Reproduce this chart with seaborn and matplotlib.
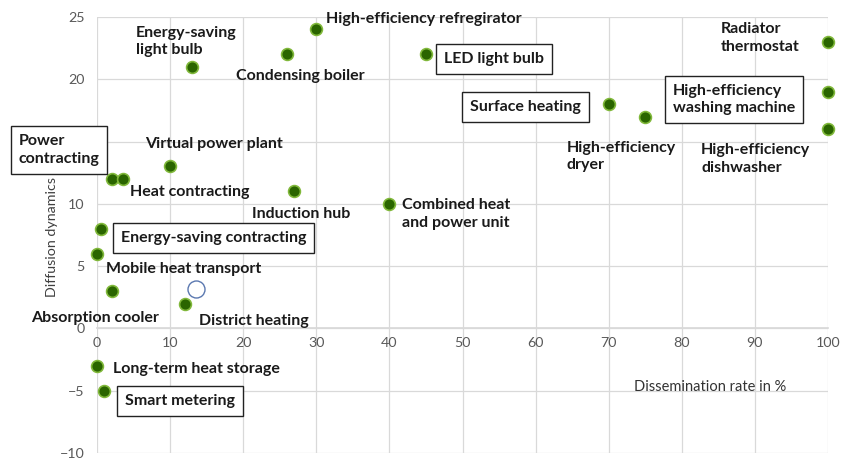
import matplotlib
matplotlib.use("Agg")
import matplotlib.pyplot as plt
import seaborn as sns
import pandas as pd

# technologies: dissemination rate (%) vs diffusion dynamics
names = [
    "Energy-saving\nlight bulb", "Condensing boiler", "High-efficiency refregirator",
    "LED light bulb", "Surface heating", "High-efficiency\ndryer",
    "Radiator\nthermostat", "High-efficiency\nwashing machine", "High-efficiency\ndishwasher",
    "Virtual power plant", "Power\ncontracting", "Heat contracting", "Induction hub",
    "Combined heat\nand power unit", "Energy-saving contracting", "Mobile heat transport",
    "Absorption cooler", "District heating", "Long-term heat storage", "Smart metering",
]
dissemination = [13, 26, 30, 45, 70, 75, 100, 100, 100, 10, 2, 3.5, 27, 40, 0.5, 0, 2, 12, 0, 1]
dynamics = [21, 22, 24, 22, 18, 17, 23, 19, 16, 13, 12, 12, 11, 10, 8, 6, 3, 2, -3, -5]
boxed = [False, False, False, True, True, False, False, True, False, False,
         True, False, False, False, True, False, False, False, False, True]

# unlabeled hollow marker
extra_x = [13.5]
extra_y = [3.2]

# label offsets in pixels (dx, dy) and alignment
offsets = [(-56, 25), (-51, -22), (10, 10), (18, -5), (-28, -3), (-79, -40),
           (-107, 4), (-155, -8), (-127, -30), (-25, 22), (-93, 29), (7, -13),
           (-42, -23), (13, -10), (20, -9), (9, -15), (-81, -27), (14, -17),
           (16, -3), (21, -10)]
aligns = ["left"] * 20
aligns[4] = "right"

df = pd.DataFrame({"x": dissemination, "y": dynamics})

sns.set_theme(style="white")
plt.rcParams["font.family"] = ["Lato", "DejaVu Sans"]

fig = plt.figure(figsize=(8.44, 4.59), dpi=100)
ax = fig.add_axes([97 / 844, 6 / 459, 731 / 844, 436 / 459])

sns.scatterplot(data=df, x="x", y="y", ax=ax, s=72, color="#2a6500",
                edgecolor="#80b83a", linewidth=1.2, zorder=3, clip_on=False)
ax.scatter(extra_x, extra_y, s=150, facecolor="white", edgecolor="#5b78b0",
           linewidth=1.0, zorder=3)

for name, x, y, off, ha, b in zip(names, dissemination, dynamics, offsets, aligns, boxed):
    bbox = dict(boxstyle="square,pad=0.5", fc="white", ec="#222222", lw=1.0) if b else None
    ax.annotate(name, (x, y), xytext=off, textcoords="offset pixels",
                ha=ha, va="center", fontsize=11.5, fontweight="bold",
                color="#1a1a1a", bbox=bbox, zorder=5, linespacing=1.3,
                annotation_clip=False)

ax.set_xlim(0, 100)
ax.set_ylim(-10, 25)
ax.set_xticks(range(0, 101, 10))
ax.set_yticks(range(-10, 26, 5))
ax.grid(True, color="#d9d9d9", linewidth=0.9)
ax.set_axisbelow(True)

for s in ["top", "right", "left"]:
    ax.spines[s].set_visible(False)
ax.spines["bottom"].set_position(("data", 0))
ax.spines["bottom"].set_color("#d9d9d9")
ax.tick_params(axis="both", length=0, labelsize=10.3, labelcolor="#595959")
ax.tick_params(axis="x", pad=6)
ax.tick_params(axis="y", pad=9)
ax.set_xlabel("")
ax.set_ylabel("")

ax.text(710 / 844, (459 - 387) / 459, "Dissemination rate in %", transform=fig.transFigure,
        ha="center", va="center", fontsize=10.5, color="#333333")
ax.text(52 / 844, (459 - 237) / 459, "Diffusion dynamics", transform=fig.transFigure,
        ha="center", va="center", rotation=90, fontsize=10.3, color="#404040", zorder=1)

fig.savefig("out.png", dpi=100)
